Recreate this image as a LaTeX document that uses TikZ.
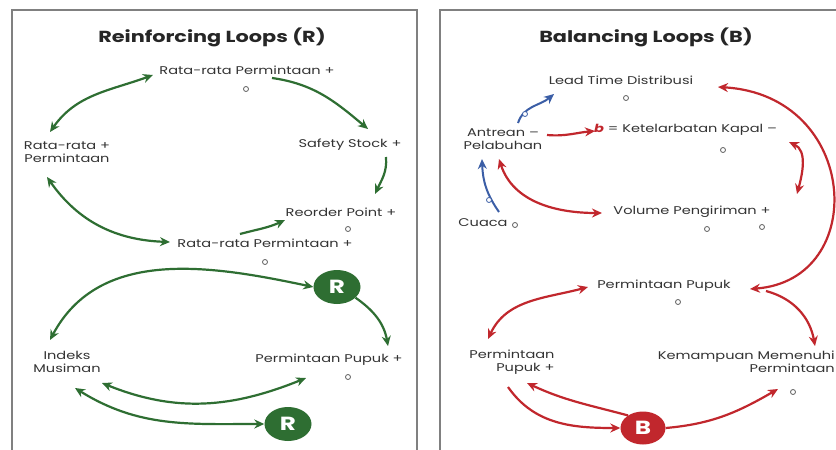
\documentclass[tikz,border=0pt]{standalone}
\usepackage{fontspec}
\setmainfont{Poppins}[FakeStretch=1.3]
\usetikzlibrary{arrows.meta,shapes.geometric}
\definecolor{gr}{HTML}{2E6E32}
\definecolor{rd}{HTML}{C1272D}
\definecolor{bl}{HTML}{3B5EA6}
\definecolor{tx}{HTML}{333333}
\begin{document}
\begin{tikzpicture}[x=1pt,y=-1pt,
  lbl/.style={text=tx,font=\fontsize{11.2}{13.5}\selectfont,inner sep=0pt,align=center},
  ttl/.style={text=black!85,font=\fontsize{16}{18}\selectfont\bfseries,inner sep=0pt},
  mk/.style={circle,draw=tx!80,line width=0.8pt,minimum size=5pt,inner sep=0pt},
  panel/.style={draw=black!50,line width=1.4pt},
  ga/.style={draw=gr,line width=2.2pt,-{Stealth[length=10pt,width=9pt]}},
  gb/.style={draw=gr,line width=2.2pt,{Stealth[length=10pt,width=9pt]}-{Stealth[length=10pt,width=9pt]}},
  ra/.style={draw=rd,line width=2.2pt,-{Stealth[length=10pt,width=9pt]}},
  rb/.style={draw=rd,line width=2.2pt,{Stealth[length=10pt,width=9pt]}-{Stealth[length=10pt,width=9pt]}},
  ba/.style={draw=bl,line width=2pt,-{Stealth[length=10pt,width=9pt]}},
  loopR/.style={ellipse,fill=gr,text=white,minimum width=47pt,minimum height=34pt,inner sep=0pt,font=\fontsize{19}{20}\selectfont\bfseries},
  loopB/.style={ellipse,fill=rd,text=white,minimum width=45pt,minimum height=33pt,inner sep=0pt,font=\fontsize{19}{20}\selectfont\bfseries}
]
\useasboundingbox[fill=white] (0,0) rectangle (836,450);
% panels
\draw[panel] (12,460) -- (12,10) -- (417,10) -- (417,460);
\draw[panel] (440,460) -- (440,10) -- (850,10);
\node[ttl] (t1) at (212,37) {Reinforcing Loops (R)};
\node[ttl] (t2) at (646,37) {Balancing Loops (B)};

% ---------- left panel ----------
\node[lbl] (rp1) at (247,70) {Rata-rata Permintaan +};
\node[mk] (rp1o) at (246,89) {};
\node[lbl] (rr) at (67,152) {Rata-rata +\\Permintaan};
\node[lbl] (ss) at (350,145) {Safety Stock +};
\node[lbl] (ro) at (341,212) {Reorder Point +};
\node[mk] (roo) at (348,229) {};
\node[lbl] (rp2) at (265,243) {Rata-rata Permintaan +};
\node[mk] (rp2o) at (265,262) {};
\node[loopR] (R1) at (337,287) {R};
\node[lbl] (im) at (67,362) {Indeks\\Musiman};
\node[lbl] (pp) at (329,360) {Permintaan Pupuk +};
\node[mk] (ppo) at (348,377) {};
\node[loopR] (R2) at (288,424) {R};

\coordinate (a1s) at (50,132);
\coordinate (a1e) at (153,75);
\draw[gb] (a1s) to[out=55,in=200] (a1e);
\coordinate (a2s) at (272,78);
\coordinate (a2e) at (368,129);
\draw[ga] (a2s) to[out=-8,in=140] (a2e);
\coordinate (a3s) at (386,157);
\coordinate (a3e) at (375,194);
\draw[ga] (a3s) to[out=-85,in=65] (a3e);
\coordinate (a4s) at (47,177);
\coordinate (a4e) at (170,242);
\draw[gb] (a4s) to[out=-55,in=178] (a4e);
\coordinate (a5s) at (240,234);
\coordinate (a5e) at (285,220);
\draw[ga] (a5s) to[out=15,in=205] (a5e);
\coordinate (a6s) at (50,340);
\draw[gb] (a6s) to[out=62,in=168] (R1.west);
\coordinate (a7e) at (388,346);
\draw[ga] (R1.-30) to[out=-35,in=100] (a7e);
\coordinate (a8s) at (102,383);
\coordinate (a8e) at (306,378);
\draw[gb] (a8s) to[out=-22,in=-158] (a8e);
\coordinate (a9s) at (75,388);
\draw[gb] (a9s) to[out=-32,in=180] (R2.west);

% ---------- right panel ----------
\node[lbl] (lt) at (621,80) {Lead Time Distribusi};
\node[mk] (lto) at (626,98) {};
\node[lbl] (an) at (503,139) {Antrean –\\Pelabuhan};
\node[lbl,anchor=west] (kk) at (594,130) {\textcolor{rd}{\textbf{\textit{b}}} = Ketelarbatan Kapal –};
\node[mk] (kko) at (723,150) {};
\node[lbl] (cu) at (483,223) {Cuaca};
\node[mk] (cuo) at (515,225) {};
\node[lbl] (vp) at (692,212) {Volume Pengiriman +};
\node[mk] (vpo1) at (707,229) {};
\node[mk] (vpo2) at (762,227) {};
\node[lbl] (pu) at (664,286) {Permintaan Pupuk};
\node[mk] (puo) at (678,302) {};
\node[lbl,align=right] (pp2) at (512,362) {Permintaan\\Pupuk +};
\node[lbl,align=right,anchor=east] (km) at (835,362) {Kemampuan Memenuhi\\Permintaan};
\node[mk] (kmo) at (793,392) {};
\node[loopB] (B) at (643,428) {B};

\coordinate (b1s) at (547,135);
\coordinate (b1e) at (595,131);
\draw[ra] (b1s) to[out=-5,in=185] (b1e);
\coordinate (b2s) at (518,123);
\coordinate (b2e) at (554,94);
\draw[ba] (b2s) to[out=72,in=220] (b2e);
\node[mk,draw=bl,fill=white] (b2m) at (525,114) {};
\coordinate (b3s) at (499,212);
\coordinate (b3e) at (482,159);
\draw[ba] (b3s) to[out=125,in=-88] (b3e);
\node[mk,draw=bl,fill=white] (b3m) at (489,200) {};
\coordinate (b4s) at (499,159);
\coordinate (b4e) at (602,213);
\draw[rb] (b4s) to[out=-72,in=180] (b4e);
\coordinate (b5s) at (789,142);
\coordinate (b5e) at (797,194);
\draw[rb] (b5s) to[out=-25,in=75] (b5e);
\coordinate (b6s) at (718,87);
\coordinate (b6e) at (750,289);
\draw[rb] (b6s) .. controls (860,95) and (870,280) .. (b6e);
\coordinate (b7s) at (766,291);
\coordinate (b7e) at (815,346);
\draw[ra] (b7s) to[out=-15,in=100] (b7e);
\coordinate (b8s) at (488,339);
\coordinate (b8e) at (588,287);
\draw[rb] (b8s) to[out=65,in=195] (b8e);
\coordinate (b9s) at (508,387);
\draw[ra] (b9s) to[out=-55,in=180] (B.west);
\coordinate (b10e) at (527,383);
\draw[ra] (B.140) to[out=165,in=-25] (b10e);
\coordinate (b11e) at (778,389);
\draw[ra] (B.east) to[out=5,in=210] (b11e);
\end{tikzpicture}
\end{document}
